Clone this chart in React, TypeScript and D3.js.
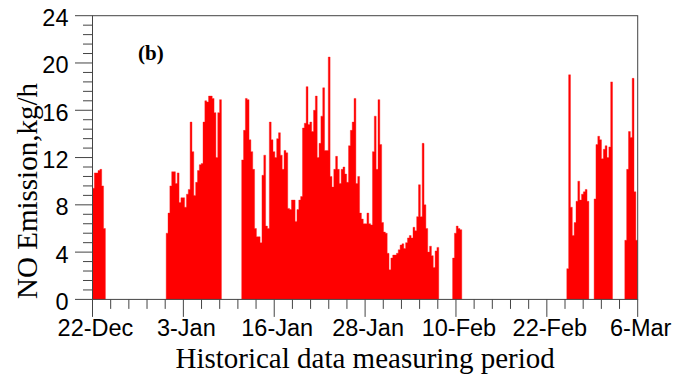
import React from "react";
import * as d3 from "d3";

// NO emission, hourly record condensed to 6-hour steps (kg/h)
const xTickLabels = ["22-Dec", "3-Jan", "16-Jan", "28-Jan", "10-Feb", "22-Feb", "6-Mar"];
const yTickValues = [0, 4, 8, 12, 16, 20, 24];

const periodHours = 1776; // 22-Dec .. 6-Mar
const stepHours = 6;

const clusterStarts = [0, 240, 486, 1173, 1545, 1634, 1734];

const decValues = [9.4, 10.7, 10.7, 10.9, 11.0, 9.6, 6.0];

const earlyJanValues = [
  5.6, 7.3, 9.6, 10.8, 10.8, 9.8, 10.7, 8.2, 8.6, 8.6,
  7.8, 8.9, 9.3, 15.0, 12.5, 8.8, 9.9, 10.9, 11.4, 11.5,
  15.0, 16.8, 16.7, 17.2, 17.2, 17.0, 15.8, 12.0, 15.8, 16.9,
];

const midJanValues = [
  11.8, 14.3, 17.0, 16.9, 13.5, 12.5, 11.0, 6.0, 5.3, 5.3,
  4.8, 10.5, 12.2, 6.2, 6.0, 15.0, 13.5, 12.5, 12.0, 13.6,
  14.1, 12.2, 11.0, 12.6, 12.4, 7.7, 7.6, 8.4, 8.4, 6.6,
  7.6, 8.4, 8.7, 14.5, 14.9, 18.0, 14.8, 15.0, 14.2, 16.0,
  17.2, 12.0, 13.2, 15.5, 17.9, 12.6, 12.6, 20.5, 10.4, 9.5,
  11.0, 12.1, 11.0, 9.8, 11.0, 11.2, 10.6, 9.9, 13.0, 14.3,
  15.0, 17.0, 9.8, 10.4, 7.3, 6.8, 6.4, 6.4, 7.3, 6.4,
  6.3, 12.5, 15.5, 11.0, 16.9, 13.1, 6.5, 5.7, 5.6, 3.9,
  2.5, 3.5, 3.75, 3.75, 3.9, 4.2, 4.6, 4.7, 4.3, 4.8,
  5.2, 5.4, 5.2, 6.1, 5.8, 7.0, 9.7, 7.0, 13.2, 8.0,
  6.0, 4.0, 4.5, 3.7, 2.7, 4.1, 4.4,
];

const febValues = [3.5, 5.6, 6.2, 6.0, 5.9];

const lateFebValues = [2.6, 19.0, 7.8, 5.4, 6.5, 8.3, 10.0, 8.4, 8.9, 9.1, 9.3, 8.3];

const earlyMarValues = [8.5, 13.1, 13.8, 13.5, 11.9, 12.7, 13.0, 12.0, 12.9, 18.4];

const marValues = [5.0, 11.0, 14.2, 13.7, 18.7, 9.1, 5.0];

const clusters = [decValues, earlyJanValues, midJanValues, febValues, lateFebValues, earlyMarValues, marValues];

const W = 689;
const H = 377;
const left = 92.5;
const right = 637.7;
const top = 15.7;
const bottom = 299.4;

export default function App() {
  const x = d3.scaleLinear().domain([0, periodHours]).range([left, right]);
  const y = d3.scaleLinear().domain([0, 24]).range([bottom, top]);

  // each measuring run drawn as one stepped column area (no seams between bars)
  const area = d3
    .area<[number, number]>()
    .curve(d3.curveStepAfter)
    .x((d) => x(d[0]))
    .y0(y(0))
    .y1((d) => y(d[1]));

  const paths = clusters.map((vals, ci) => {
    const pts: [number, number][] = vals.map((v, i) => [clusterStarts[ci] + i * stepHours, v]);
    pts.push([clusterStarts[ci] + vals.length * stepHours, vals[vals.length - 1]]);
    return area(pts) || "";
  });

  const yMinor = d3.range(0, 31).map((i) => i * 0.8);
  const xStep = periodHours / 30;
  const xMinor = d3.range(0, 31).map((i) => i * xStep);

  const axisColor = "#444";
  const sans = "'Liberation Sans', Arial, sans-serif";
  const serif = "'Liberation Serif', 'Times New Roman', serif";

  return (
    <svg
      width={W}
      height={H}
      style={{ position: "absolute", left: 0, top: 0, background: "#fff" }}
    >
      <defs>
        <clipPath id="plot-clip">
          <rect x={left} y={top} width={right - left} height={bottom - top} />
        </clipPath>
      </defs>

      <g clipPath="url(#plot-clip)">
        {paths.map((d, i) => (
          <path key={i} d={d} fill="#ff0000" stroke="#ff1a1a" strokeWidth={0.4} />
        ))}
      </g>

      {/* frame */}
      <rect
        x={left}
        y={top}
        width={right - left}
        height={bottom - top}
        fill="none"
        stroke={axisColor}
        strokeWidth={1}
      />

      {/* y axis ticks */}
      {yMinor.map((v, i) => (
        <line
          key={"ym" + i}
          x1={left - (i % 5 === 0 ? 17.5 : 9.5)}
          x2={left}
          y1={y(v)}
          y2={y(v)}
          stroke={axisColor}
          strokeWidth={1}
        />
      ))}
      {yTickValues.map((v) => (
        <text
          key={"yl" + v}
          x={68.5}
          y={y(v) + 10.5}
          textAnchor="end"
          fontFamily={sans}
          fontSize={23.5}
          fill="#000"
        >
          {v}
        </text>
      ))}

      {/* x axis ticks */}
      {xMinor.map((t, i) => (
        <line
          key={"xm" + i}
          x1={x(t)}
          x2={x(t)}
          y1={bottom}
          y2={bottom + (i % 5 === 0 ? 17.5 : 9.5)}
          stroke={axisColor}
          strokeWidth={1}
        />
      ))}
      {xTickLabels.map((lab, i) => (
        <text
          key={"xl" + i}
          x={x(i * xStep * 5) + 3}
          y={335.5}
          textAnchor="middle"
          fontFamily={sans}
          fontSize={23.5}
          fill="#000"
        >
          {lab}
        </text>
      ))}

      {/* titles */}
      <text
        x={(left + right) / 2}
        y={368}
        textAnchor="middle"
        fontFamily={serif}
        fontSize={29}
        fill="#000"
      >
        Historical data measuring period
      </text>
      <text
        transform={`translate(37, 191) rotate(-90)`}
        textAnchor="middle"
        fontFamily={serif}
        fontSize={29}
        fill="#000"
      >
        NO Emission,kg/h
      </text>
      <text x={138} y={60} fontFamily={serif} fontWeight="bold" fontSize={21} fill="#000">
        (b)
      </text>
    </svg>
  );
}
